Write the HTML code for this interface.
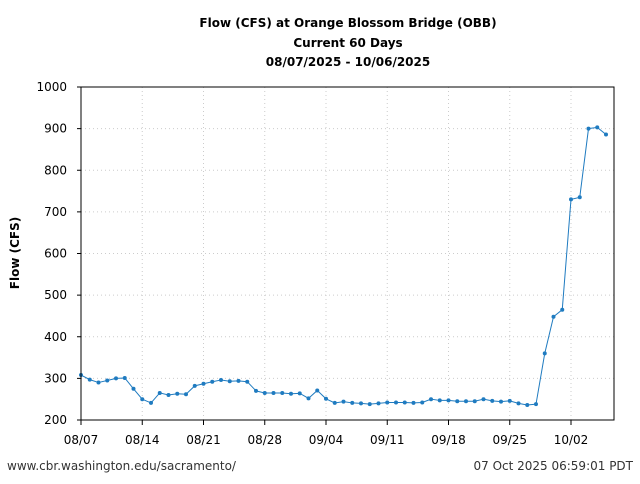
<!DOCTYPE html>
<html><head><meta charset="utf-8"><style>
body{margin:0;background:#fff;width:640px;height:480px;overflow:hidden;font-family:"DejaVu Sans","Liberation Sans",sans-serif;}
</style></head><body>
<svg width="640" height="480" font-family="DejaVu Sans, Liberation Sans, sans-serif">
<g font-size="12" font-weight="bold" text-anchor="middle" fill="#000">
<text x="348" y="27">Flow (CFS) at Orange Blossom Bridge (OBB)</text>
<text x="348" y="47">Current 60 Days</text>
<text x="348" y="66">08/07/2025 - 10/06/2025</text>
</g>
<g id="grid"></g>
<g id="axes"></g>
<polyline id="line" fill="none" stroke="#1f7bc0" stroke-width="1"/>
<g id="pts"></g>
<rect x="81" y="87" width="533" height="333" fill="none" stroke="#000" stroke-width="1"/>
<text transform="translate(19,253) rotate(-90)" font-size="12" font-weight="bold" text-anchor="middle">Flow (CFS)</text>
<text x="7" y="470" font-size="12" fill="#333">www.cbr.washington.edu/sacramento/</text>
<text x="633" y="470" font-size="12" fill="#333" text-anchor="end">07 Oct 2025 06:59:01 PDT</text>
</svg>
<script>
const values=[308,297,290,295,300,301,275,250,241,265,260,263,262,282,287,292,296,293,294,292,270,265,265,265,263,264,252,271,251,241,244,241,240,238,240,242,242,242,241,242,250,247,247,245,245,245,250,246,244,246,240,236,238,360,448,465,730,735,900,903,886];
const yTicks=[200,300,400,500,600,700,800,900,1000];
const xTickDays=[0,7,14,21,28,35,42,49,56];
const xTickLabels=["08/07","08/14","08/21","08/28","09/04","09/11","09/18","09/25","10/02"];
const NS="http://www.w3.org/2000/svg";
const x0=81,x1=614,y0=420,y1=87,dayPx=8.75;
const X=d=>x0+d*dayPx;
const Y=v=>y0-(v-200)/800*(y0-y1);
const grid=document.getElementById('grid'),axes=document.getElementById('axes');
function mk(t,a,p){const e=document.createElementNS(NS,t);for(const k in a)e.setAttribute(k,a[k]);p.appendChild(e);return e;}
yTicks.forEach(v=>{
 const y=Y(v);
 const g=mk('line',{x1:x0,x2:x1,y1:y,y2:y,stroke:'#ccc','stroke-dasharray':'1,3'},grid);
 
 
 const t=mk('line',{x1:x0-4,x2:x0,y1:y,y2:y,stroke:'#000'},axes);
 
 
 const l=mk('text',{x:x0-14,y:y+4,'font-size':12,'text-anchor':'end'},axes);
 l.textContent=v;
 
 
});
xTickDays.forEach((d,i)=>{
 const x=X(d);
 const g=mk('line',{x1:x,x2:x,y1:y1,y2:y0,stroke:'#ccc','stroke-dasharray':'1,3'},grid);
 
 
 const t=mk('line',{x1:x,x2:x,y1:y0,y2:y0+5,stroke:'#000'},axes);
 
 
 const l=mk('text',{x:x,y:y0+24,'font-size':12,'text-anchor':'middle'},axes);
 l.textContent=xTickLabels[i];
 
 
});
document.getElementById('line').setAttribute('points',values.map((v,i)=>X(i)+','+Y(v)).join(' '));
const pts=document.getElementById('pts');
values.forEach((v,i)=>{
 const c=mk('circle',{cx:X(i),cy:Y(v),r:2,fill:'#1f7bc0'},pts);
 
 
});
</script>
</body></html>
